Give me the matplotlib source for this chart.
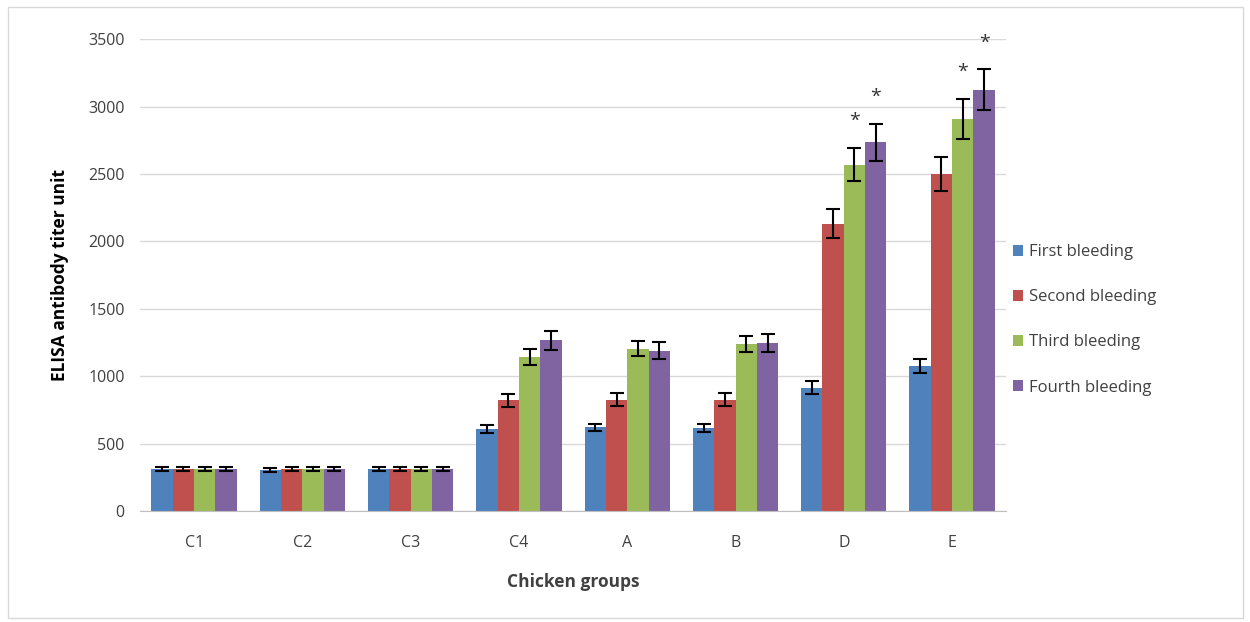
import numpy as np
import matplotlib
matplotlib.use("Agg")
import matplotlib.pyplot as plt
from matplotlib.patches import Rectangle

groups = ["C1", "C2", "C3", "C4", "A", "B", "D", "E"]
series = ["First bleeding", "Second bleeding", "Third bleeding", "Fourth bleeding"]
colors = ["#4F81BD", "#C0504D", "#9BBB59", "#8064A2"]

first = [310, 305, 310, 610, 620, 615, 915, 1075]
second = [310, 310, 310, 820, 825, 825, 2130, 2500]
third = [310, 310, 310, 1145, 1205, 1240, 2570, 2910]
fourth = [310, 310, 310, 1265, 1190, 1245, 2735, 3125]

err_first = [15, 15, 15, 30, 28, 28, 50, 50]
err_second = [15, 15, 15, 45, 47, 47, 108, 125]
err_third = [15, 15, 15, 60, 59, 59, 125, 148]
err_fourth = [15, 15, 15, 68, 62, 65, 138, 152]

# asterisks: (group index, series index)
stars = [(6, 2), (6, 3), (7, 2), (7, 3)]

values = [first, second, third, fourth]
errors = [err_first, err_second, err_third, err_fourth]

plt.rcParams['font.family'] = ['Open Sans', 'DejaVu Sans']

fig = plt.figure(figsize=(12.5, 6.22), dpi=100)
fig.patches.append(Rectangle((0.006, 0.006), 0.988, 0.983, transform=fig.transFigure,
                             fill=False, edgecolor="#d9d9d9", linewidth=1))
ax = fig.add_axes([0.112, 0.1785, 0.693, 0.7585])

x = np.arange(len(groups))
w = 0.197
for i in range(4):
    pos = x + (i - 1.5) * w
    ax.bar(pos, values[i], w, color=colors[i], label=series[i], zorder=2,
           yerr=errors[i], error_kw=dict(ecolor="black", elinewidth=1.5,
                                         capsize=5, capthick=1.5, zorder=3))

for g, s in stars:
    xp = x[g] + (s - 1.5) * w
    top = values[s][g] + errors[s][g]
    ax.text(xp, top + 130, "*", ha="center", va="bottom", fontsize=14, color="#333333")

ax.set_xlim(-0.5, len(groups) - 0.5)
ax.set_ylim(0, 3500)
ax.set_yticks(np.arange(0, 3501, 500))
ax.set_xticks(x)
ax.set_xticklabels(groups)
ax.grid(axis="y", color="#d9d9d9", linewidth=1, zorder=0)
for sp in ["top", "right", "left"]:
    ax.spines[sp].set_visible(False)
ax.spines["bottom"].set_color("#bfbfbf")
ax.tick_params(axis="both", length=0, labelsize=11.5, colors="#404040")
ax.tick_params(axis="y", pad=11)
ax.tick_params(axis="x", pad=17)

ax.set_ylabel("ELISA antibody titer unit", fontsize=12.5, fontweight="bold", labelpad=14)
ax.set_xlabel("Chicken groups", fontsize=12.5, fontweight="bold", labelpad=16, color="#404040")

leg = ax.legend(loc="center left", bbox_to_anchor=(0.99, 0.405), frameon=False,
                fontsize=12, handlelength=0.6, handleheight=0.6, labelspacing=1.75,
                handletextpad=0.4)
for t in leg.get_texts():
    t.set_color("#404040")

fig.savefig("out.png", dpi=100)
